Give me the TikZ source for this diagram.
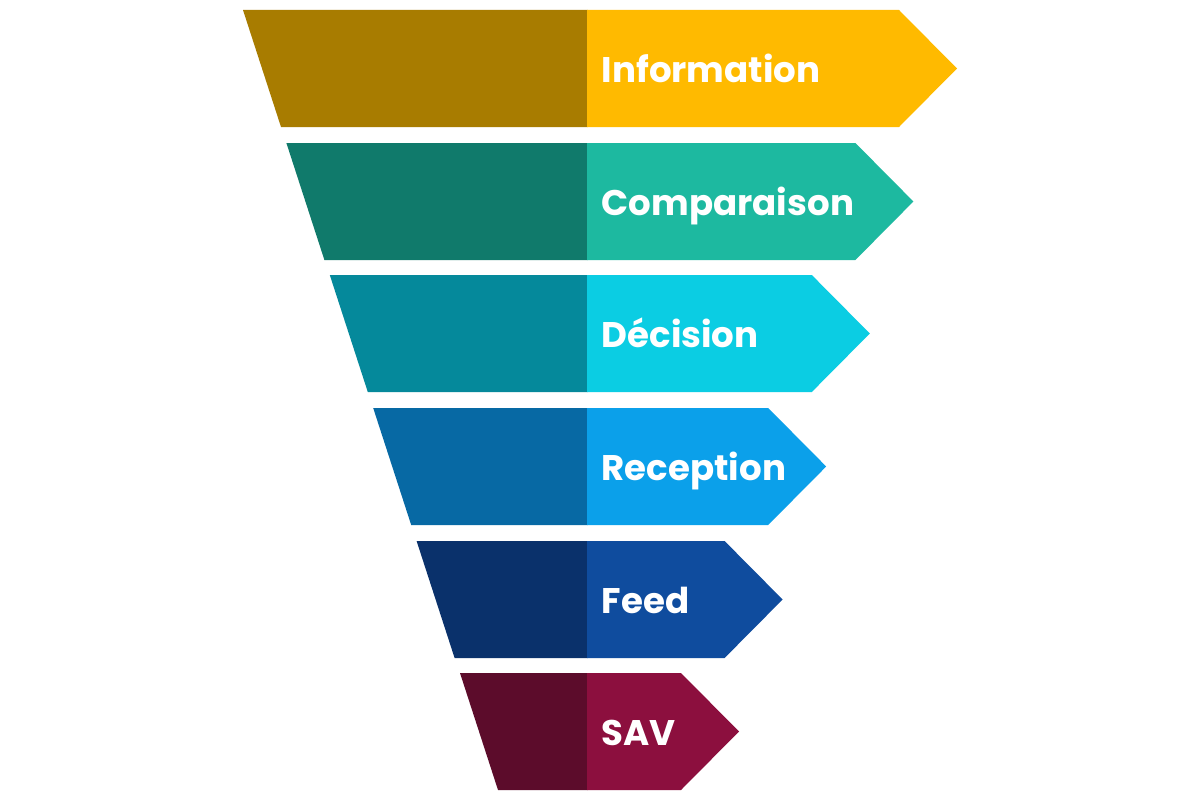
\documentclass[tikz,border=0pt]{standalone}
\usepackage{fontspec}
\setmainfont{Poppins}
\definecolor{d1}{HTML}{A87C00}\definecolor{l1}{HTML}{FFBA00}
\definecolor{d2}{HTML}{107A6B}\definecolor{l2}{HTML}{1DB9A0}
\definecolor{d3}{HTML}{05899B}\definecolor{l3}{HTML}{0BCDE3}
\definecolor{d4}{HTML}{0769A4}\definecolor{l4}{HTML}{0BA0EA}
\definecolor{d5}{HTML}{0A316B}\definecolor{l5}{HTML}{0F4C9E}
\definecolor{d6}{HTML}{5C0C2B}\definecolor{l6}{HTML}{8C0F3E}
\tikzset{lbl/.style={anchor=base west,inner sep=0pt,text=white,font=\fontsize{35.6}{40}\selectfont\bfseries}}
\begin{document}
\begin{tikzpicture}[x=1pt,y=-1pt]
\useasboundingbox[fill=white] (0,0) rectangle (1200,800);
\foreach \i/\t/\txt in {1/10/Information,2/143/Comparaison,3/275/D\'ecision,4/408/Reception,5/541/Feed,6/673/SAV}{
  \pgfmathsetmacro{\lx}{243+43.4*(\i-1)}
  \pgfmathsetmacro{\bx}{\lx+38}
  \pgfmathsetmacro{\ex}{899-43.6*(\i-1)}
  \pgfmathsetmacro{\tx}{\ex+58}
  \pgfmathsetmacro{\b}{\t+117}
  \pgfmathsetmacro{\m}{\t+58.5}
  \fill[d\i] (\lx,\t) -- (587.5,\t) -- (587.5,\b) -- (\bx,\b) -- cycle;
  \fill[l\i] (587,\t) -- (\ex,\t) -- (\tx,\m) -- (\ex,\b) -- (587,\b) -- cycle;
  \node[lbl] (t\i) at (601.5,\m+13.5) {\txt};
}
\end{tikzpicture}
\end{document}
